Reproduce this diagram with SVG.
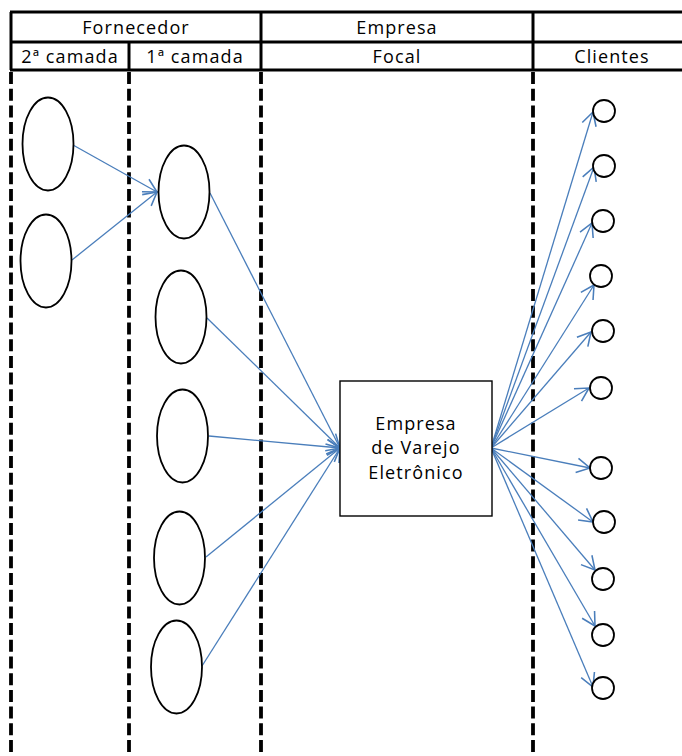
<svg xmlns="http://www.w3.org/2000/svg" width="682" height="756" viewBox="0 0 682 756">
<style>
.t{font-family:"Open Sans","Liberation Sans",sans-serif;font-size:18px;fill:#000;text-anchor:middle;letter-spacing:1.1px}
.hl{stroke:#000;stroke-width:3;fill:none}
.dl{stroke:#000;stroke-width:3.8;stroke-dasharray:12 4.7;fill:none}
.n{fill:#fff;stroke:#000;stroke-width:1.8}
.c{stroke:#4a7ebb;stroke-width:1.3;fill:none;marker-end:url(#ah)}
</style>
<defs>
<marker id="ah" markerUnits="userSpaceOnUse" markerWidth="24" markerHeight="24" viewBox="-14 -10 18 20" refX="0" refY="0" orient="auto">
<path d="M-11,-6 L0,0 L-11,6" fill="none" stroke="#4a7ebb" stroke-width="1.3"/>
</marker>
</defs>
<rect width="682" height="756" fill="#fff"/>
<g id="header">
<line class="hl" x1="10" y1="12" x2="682" y2="12"/>
<line class="hl" x1="10" y1="42" x2="682" y2="42"/>
<line class="hl" x1="10" y1="70" x2="682" y2="70"/>
<line class="hl" x1="11" y1="12" x2="11" y2="70"/>
<line class="hl" x1="129" y1="42" x2="129" y2="70"/>
<line class="hl" x1="261" y1="12" x2="261" y2="70"/>
<line class="hl" x1="533" y1="12" x2="533" y2="70"/>
<text class="t" x="136" y="34">Fornecedor</text>
<text class="t" x="397" y="34">Empresa</text>
<text class="t" x="70" y="63">2ª camada</text>
<text class="t" x="195" y="63">1ª camada</text>
<text class="t" x="397" y="63">Focal</text>
<text class="t" x="612" y="63">Clientes</text>
</g>
<g id="lanes">
<line class="dl" x1="11" y1="72" x2="11" y2="756"/>
<line class="dl" x1="129" y1="72" x2="129" y2="756"/>
<line class="dl" x1="261" y1="72" x2="261" y2="756"/>
<line class="dl" x1="533" y1="72" x2="533" y2="756"/>
</g>
<g id="connectors">
<line class="c" x1="73" y1="145" x2="157" y2="192"/>
<line class="c" x1="72" y1="260" x2="157" y2="192"/>
<line class="c" x1="210" y1="193" x2="340" y2="448"/>
<line class="c" x1="207" y1="318" x2="340" y2="448"/>
<line class="c" x1="209" y1="436" x2="340" y2="448"/>
<line class="c" x1="206" y1="557" x2="340" y2="448"/>
<line class="c" x1="202" y1="666" x2="340" y2="448"/>
<line class="c" x1="491" y1="448" x2="593" y2="112"/>
<line class="c" x1="491" y1="448" x2="594" y2="167"/>
<line class="c" x1="491" y1="448" x2="592" y2="223"/>
<line class="c" x1="491" y1="448" x2="594" y2="285"/>
<line class="c" x1="491" y1="448" x2="591" y2="332"/>
<line class="c" x1="491" y1="448" x2="589" y2="388"/>
<line class="c" x1="491" y1="448" x2="590" y2="468"/>
<line class="c" x1="491" y1="448" x2="593" y2="522"/>
<line class="c" x1="491" y1="448" x2="595" y2="570"/>
<line class="c" x1="491" y1="448" x2="595" y2="626"/>
<line class="c" x1="491" y1="448" x2="593" y2="687"/>
</g>
<g id="s2a"><ellipse class="n" cx="48" cy="144" rx="25.5" ry="46.5"/></g>
<g id="s2b"><ellipse class="n" cx="46" cy="261" rx="25.5" ry="46.5"/></g>
<g id="s1a"><ellipse class="n" cx="184" cy="192" rx="25.5" ry="46.5"/></g>
<g id="s1b"><ellipse class="n" cx="181" cy="317" rx="25.5" ry="46.5"/></g>
<g id="s1c"><ellipse class="n" cx="182.5" cy="436" rx="25.5" ry="46.5"/></g>
<g id="s1d"><ellipse class="n" cx="179.5" cy="558" rx="25.5" ry="46.5"/></g>
<g id="s1e"><ellipse class="n" cx="176.5" cy="667" rx="25.5" ry="46.5"/></g>
<g id="focal">
<rect x="340" y="381" width="152" height="135" fill="#fff" stroke="#000" stroke-width="1.4"/>
<text class="t" x="416" y="430">Empresa</text>
<text class="t" x="416" y="454">de Varejo</text>
<text class="t" x="416" y="479">Eletrônico</text>
</g>
<g id="c1"><circle class="n" cx="604" cy="111" r="11"/></g>
<g id="c2"><circle class="n" cx="604" cy="166" r="11"/></g>
<g id="c3"><circle class="n" cx="603" cy="221" r="11"/></g>
<g id="c4"><circle class="n" cx="601" cy="276" r="11"/></g>
<g id="c5"><circle class="n" cx="603" cy="331" r="11"/></g>
<g id="c6"><circle class="n" cx="601" cy="388" r="11"/></g>
<g id="c7"><circle class="n" cx="601" cy="468" r="11"/></g>
<g id="c8"><circle class="n" cx="604" cy="522" r="11"/></g>
<g id="c9"><circle class="n" cx="603" cy="579" r="11"/></g>
<g id="c10"><circle class="n" cx="603" cy="635" r="11"/></g>
<g id="c11"><circle class="n" cx="603" cy="688" r="11"/></g>
</svg>
